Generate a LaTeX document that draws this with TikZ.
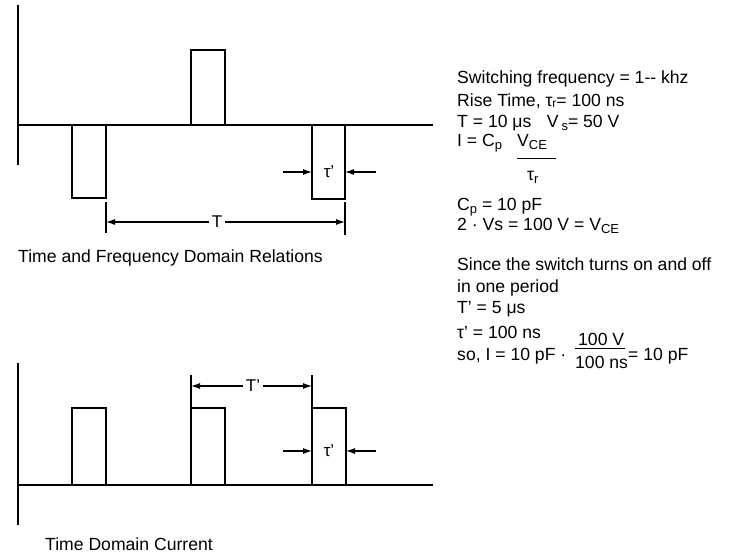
\documentclass[tikz,border=0pt]{standalone}
\usepackage{fontspec}
\setmainfont{Liberation Sans}
\usetikzlibrary{arrows.meta}
\newcommand{\mysub}[1]{\raisebox{-0.4ex}{\fontsize{13}{13}\selectfont #1}}
\newcommand{\mysubh}[1]{\raisebox{-0.2ex}{\fontsize{12}{12}\selectfont #1}}
\begin{document}
\begin{tikzpicture}[x=1pt,y=-1pt,
  wave/.style={line width=1.6pt,line join=miter},
  dimline/.style={line width=1.1pt},
  dimarrow/.style={line width=1.1pt,-{Latex[length=9pt,width=6pt]}},
  txt/.style={anchor=base west,inner sep=0pt,font=\fontsize{17.6}{21}\selectfont},
  lbl/.style={inner sep=3pt,font=\fontsize{17}{20}\selectfont}]
\useasboundingbox (0,0) rectangle (734,554);
\fill[white] (0,0) rectangle (734,554);

% ---------- top waveform ----------
\draw[wave] (18,5) -- (18,165);
\draw[wave] (18,125) -- (433,125);
\draw[wave] (72,125) -- (72,198) -- (106,198) -- (106,125);
\draw[wave] (191,125) -- (191,50) -- (225,50) -- (225,125);
\draw[wave] (312,125) -- (312,199) -- (345,199) -- (345,125);

% tau' top
\node[lbl] (tau1) at (329,172) {τ'};
\coordinate (t1a) at (283,172);
\coordinate (t1b) at (312,172);
\coordinate (t1c) at (376,172);
\coordinate (t1d) at (345,172);
\draw[dimarrow] (t1a) -- (t1b);
\draw[dimarrow] (t1c) -- (t1d);

% T dimension
\draw[dimline] (106,202) -- (106,233);
\draw[dimline] (345,202) -- (345,235);
\node[lbl] (Tlbl) at (217,222) {T};
\coordinate (TL) at (106,222);
\coordinate (TR) at (345,222);
\draw[dimarrow] (Tlbl.west) -- (TL);
\draw[dimarrow] (Tlbl.east) -- (TR);

\node[txt] (cap1) at (18,262) {Time and Frequency Domain Relations};

% ---------- bottom waveform ----------
\draw[wave] (18,363) -- (18,525);
\draw[wave] (18,485) -- (433,485);
\draw[wave] (72,485) -- (72,408) -- (106,408) -- (106,485);
\draw[wave] (191,485) -- (191,408) -- (225,408) -- (225,485);
\draw[wave] (312,485) -- (312,408) -- (346,408) -- (346,485);

% T' dimension
\draw[dimline] (191,375) -- (191,408);
\draw[dimline] (312,375) -- (312,408);
\node[lbl] (Tp) at (253,386) {T'};
\coordinate (TpL) at (191,386);
\coordinate (TpR) at (312,386);
\draw[dimarrow] (Tp.west) -- (TpL);
\draw[dimarrow] (Tp.east) -- (TpR);

% tau' bottom
\node[lbl] (tau2) at (329,451) {τ'};
\coordinate (t2a) at (283,451);
\coordinate (t2b) at (312,451);
\coordinate (t2c) at (376,451);
\coordinate (t2d) at (346,451);
\draw[dimarrow] (t2a) -- (t2b);
\draw[dimarrow] (t2c) -- (t2d);

\node[txt] (cap2) at (45,550) {Time Domain Current};

% ---------- right text ----------
\node[txt] (l1) at (457,83) {Switching frequency = 1-{}- khz};
\node[txt] (l2) at (457,106) {Rise Time, τ\mysubh{r}= 100 ns};
\node[txt] (l3) at (457,127) {T = 10 μs\hspace{0.6em} V\,\mysub{s}= 50 V};
\node[txt] (l4) at (457,146) {I = C\mysub{p}};
\node[txt] (l4v) at (517,146) {V\mysub{CE}};
\coordinate (f1a) at (517,158);
\coordinate (f1b) at (556,158);
\draw[line width=1pt] (f1a) -- (f1b);
\node[txt] (l4t) at (527,180) {τ\mysub{r}};
\node[txt] (l5) at (457,210) {C\mysub{p} = 10 pF};
\node[txt] (l6) at (457,230) {2 · Vs = 100 V = V\mysub{CE}};
\node[txt] (l7) at (457,270) {Since the switch turns on and off};
\node[txt] (l8) at (457,292) {in one period};
\node[txt] (l9) at (457,313) {T' = 5 μs};
\node[txt] (l10) at (457,338) {τ' = 100 ns};
\node[txt] (l11) at (457,360) {so, I = 10 pF ·};
\node[txt] (l11n) at (578,345) {100 V};
\coordinate (f2a) at (575,348);
\coordinate (f2b) at (625,348);
\draw[line width=1pt] (f2a) -- (f2b);
\node[txt] (l11d) at (575,368) {100 ns};
\node[txt] (l11r) at (628,360) {= 10 pF};
\end{tikzpicture}
\end{document}
